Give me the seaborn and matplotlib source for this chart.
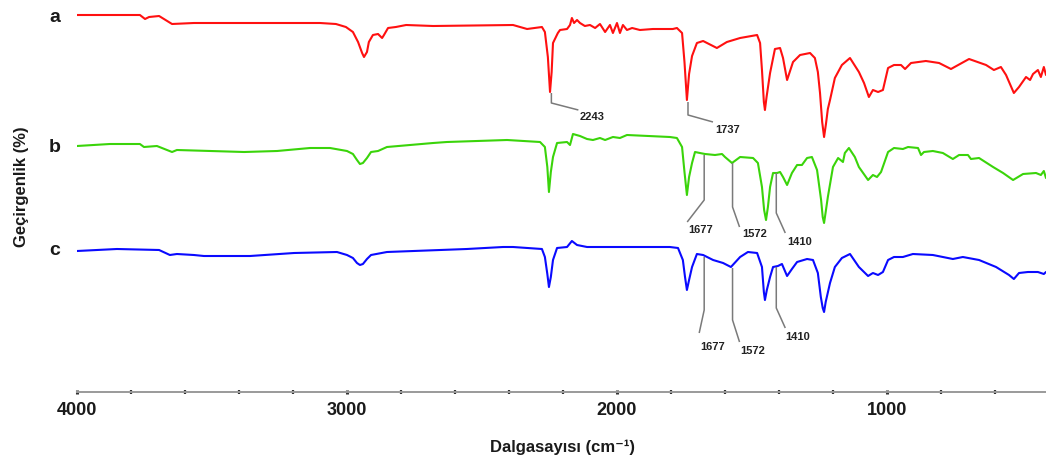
import numpy as np
import pandas as pd
import matplotlib
matplotlib.use("Agg")
import matplotlib.pyplot as plt
import seaborn as sns
from matplotlib.ticker import MultipleLocator

# ---------------- data ----------------
# wavenumber (cm-1) and transmittance (arbitrary units, offset spectra)
wn_a = [4000, 3767, 3748, 3733, 3696, 3648, 3567, 3100, 3041, 3004, 2978, 2959, 2944, 2937,
        2926, 2919, 2904, 2885, 2870, 2863, 2848, 2819, 2781, 2681, 2385, 2333, 2278, 2267,
        2256, 2248, 2242, 2237, 2219, 2211, 2185, 2174, 2167, 2159, 2148, 2137, 2119, 2100,
        2081, 2063, 2044, 2026, 2015, 2000, 1989, 1978, 1963, 1944, 1915, 1867, 1793, 1778,
        1759, 1750, 1741, 1733, 1722, 1704, 1681, 1630, 1593, 1544, 1481, 1470, 1463, 1456,
        1452, 1446, 1433, 1415, 1396, 1385, 1370, 1348, 1322, 1285, 1267, 1256, 1248, 1240,
        1233, 1226, 1219, 1211, 1193, 1167, 1137, 1104, 1085, 1067, 1052, 1033, 1015, 996,
        974, 948, 933, 911, 856, 807, 763, 696, 633, 604, 578, 559, 530, 511, 485, 470, 459,
        441, 430, 419, 411]
t_a = [377, 377, 373, 375, 376, 368, 369, 369, 368, 365, 360, 350, 339, 335,
       340, 350, 357, 358, 354, 357, 364, 365, 367, 366, 367, 363, 365, 360,
       335, 300, 320, 349, 359, 362, 363, 367, 374, 369, 372, 369, 366, 367,
       364, 368, 360, 367, 359, 369, 359, 367, 362, 364, 362, 363, 363, 364,
       359, 330, 292, 318, 336, 349, 351, 344, 350, 354, 357, 349, 322, 290,
       282, 295, 319, 343, 344, 334, 312, 330, 337, 339, 334, 320, 299, 270,
       255, 268, 283, 292, 314, 327, 334, 320, 309, 295, 302, 300, 302, 324,
       327, 327, 323, 329, 331, 329, 323, 333, 327, 322, 325, 317, 299, 305, 315, 312, 318,
       322, 315, 325, 317]

wn_b = [4000, 3878, 3767, 3752, 3704, 3648, 3630, 3381, 3259, 3137, 3063, 3000, 2978, 2963,
        2952, 2941, 2926, 2911, 2885, 2852, 2681, 2630, 2407, 2285, 2267, 2258, 2252, 2245,
        2237, 2222, 2185, 2174, 2163, 2137, 2111, 2089, 2063, 2044, 2015, 1989, 1963, 1804,
        1778, 1759, 1750, 1741, 1733, 1722, 1711, 1693, 1674, 1637, 1611, 1600, 1574, 1544,
        1496, 1478, 1463, 1455, 1448, 1441, 1433, 1422, 1407, 1396, 1385, 1370, 1352, 1333,
        1315, 1296, 1278, 1259, 1244, 1238, 1233, 1227, 1219, 1200, 1181, 1163, 1156, 1141,
        1119, 1104, 1070, 1052, 1037, 1022, 996, 974, 941, 922, 885, 874, 863, 830, 793, 756,
        733, 700, 689, 659, 607, 570, 533, 496, 448, 430, 419, 411]
t_b = [246, 248, 248, 245, 246, 240, 242, 240, 241, 244, 244, 241, 238, 232,
       228, 229, 234, 240, 241, 245, 249, 250, 252, 250, 245, 225, 200, 220,
       235, 249, 250, 247, 258, 256, 253, 252, 254, 252, 255, 254, 257, 255,
       254, 245, 220, 197, 215, 229, 240, 239, 238, 237, 238, 235, 229, 235,
       234, 229, 205, 182, 172, 185, 205, 219, 219, 220, 215, 207, 219, 227,
       227, 234, 235, 222, 192, 175, 169, 180, 195, 225, 234, 230, 239, 244,
       235, 225, 212, 217, 215, 220, 240, 244, 243, 245, 244, 237, 240, 241, 239, 233,
       237, 237, 233, 234, 225, 219, 212, 218, 219, 217, 221, 214]

wn_c = [4000, 3852, 3696, 3656, 3630, 3567, 3530, 3359, 3196, 3037, 3000, 2978, 2963, 2952,
        2941, 2926, 2911, 2852, 2556, 2422, 2385, 2278, 2267, 2258, 2252, 2245, 2237, 2222,
        2185, 2167, 2148, 2111, 2015, 1804, 1774, 1756, 1748, 1741, 1733, 1722, 1704, 1681,
        1644, 1607, 1578, 1544, 1515, 1481, 1463, 1456, 1452, 1445, 1433, 1422, 1404, 1389,
        1370, 1352, 1333, 1296, 1274, 1256, 1245, 1238, 1233, 1227, 1211, 1193, 1167, 1137,
        1104, 1070, 1052, 1033, 1015, 996, 974, 941, 904, 830, 756, 719, 659, 596, 548, 530,
        511, 478, 441, 419, 411]
t_c = [141, 143, 142, 137, 138, 137, 136, 136, 139, 140, 137, 134, 129, 127,
       128, 133, 137, 140, 143, 145, 145, 143, 135, 118, 105, 115, 132, 144,
       145, 151, 147, 145, 145, 145, 144, 132, 115, 102, 112, 125, 138, 137,
       132, 129, 125, 135, 140, 139, 125, 100, 92, 102, 115, 125, 126, 128,
       116, 123, 130, 133, 132, 119, 95, 84, 80, 90, 109, 125, 134, 138,
       125, 116, 119, 117, 120, 132, 135, 135, 138, 137, 133, 135, 132, 125, 117, 113,
       119, 120, 120, 118, 120]

series_names = ["a", "b", "c"]
series_colors = ["#ff1010", "#3ad40a", "#0a0aff"]

# peak labels: (text, peak wavenumber, curve start y, knee y, end dx[px], end y, text dx[px], text y)
peak_annotations = [
    ("2243", 2243, 299, 289, 27, 282, 41, 275),
    ("1737", 1737, 290, 277, 25, 270, 40, 262),
    ("1677", 1677, 237, 192, -17, 170, -4, 162),
    ("1572", 1572, 229, 185, 7, 165, 22, 158),
    ("1410", 1410, 219, 179, 9, 159, 23, 150),
    ("1677", 1677, 135, 82, -5, 59, 8, 45),
    ("1572", 1572, 124, 72, 7, 50, 20, 41),
    ("1410", 1410, 125, 84, 9, 64, 21, 55),
]

# ---------------- plot ----------------
sns.set_theme(style="white")
plt.rcParams['font.family'] = ['Liberation Sans', 'DejaVu Sans']

W, H = 1046, 461
fig = plt.figure(figsize=(W / 100, H / 100), dpi=100)
ax = fig.add_axes([77 / W, (H - 392) / H, (W - 77) / W, 392 / H])

for wn, t, col in zip([wn_a, wn_b, wn_c], [t_a, t_b, t_c], series_colors):
    df = pd.DataFrame({"wn": wn, "t": t})
    sns.lineplot(data=df, x="wn", y="t", color=col, lw=1.5, ax=ax,
                 estimator=None, sort=False)

ax.set_xlim(4000, 411)
ax.set_ylim(0, 392)
ax.set_xlabel("")
ax.set_ylabel("")

px2wn = 1 / 0.27
for txt, wn0, y0, y1, dx2, y2, dxt, yt in peak_annotations:
    xs = [wn0, wn0, wn0 - dx2 * px2wn]
    ys = [y0, y1, y2]
    ax.plot(xs, ys, color="#7a7a7a", lw=1.1, solid_capstyle="butt")
    ax.text(wn0 - dxt * px2wn, yt, txt, fontsize=8, fontweight="bold",
            color="#222222", ha="center", va="center")

for s in ["top", "right", "left"]:
    ax.spines[s].set_visible(False)
ax.spines["bottom"].set_color("#9a9a9a")
ax.spines["bottom"].set_linewidth(1.4)
ax.set_yticks([])
ax.xaxis.set_major_locator(MultipleLocator(1000))
ax.xaxis.set_minor_locator(MultipleLocator(200))
ax.tick_params(axis="x", which="major", direction="inout", length=3, width=2.2,
               color="#333333", labelsize=13, pad=6, labelcolor="#1a1a1a", bottom=True)
ax.tick_params(axis="x", which="minor", direction="inout", length=2.5, width=1.6,
               color="#333333", bottom=True)
for lab in ax.get_xticklabels():
    lab.set_fontweight("bold")

fig.text(563 / W, 1 - 447 / H, "Dalgasayısı (cm⁻¹)", fontsize=12, fontweight="bold",
         ha="center", va="center", color="#1a1a1a")
fig.text(22 / W, 1 - 187 / H, "Geçirgenlik (%)", fontsize=12, fontweight="bold",
         rotation=90, ha="center", va="center", color="#1a1a1a")

for name, ybase in zip(series_names, [22, 152, 255]):
    fig.text(55 / W, 1 - ybase / H, name, fontsize=14, fontweight="bold",
             ha="center", va="baseline", color="#1a1a1a")

fig.savefig("out.png", dpi=100)
